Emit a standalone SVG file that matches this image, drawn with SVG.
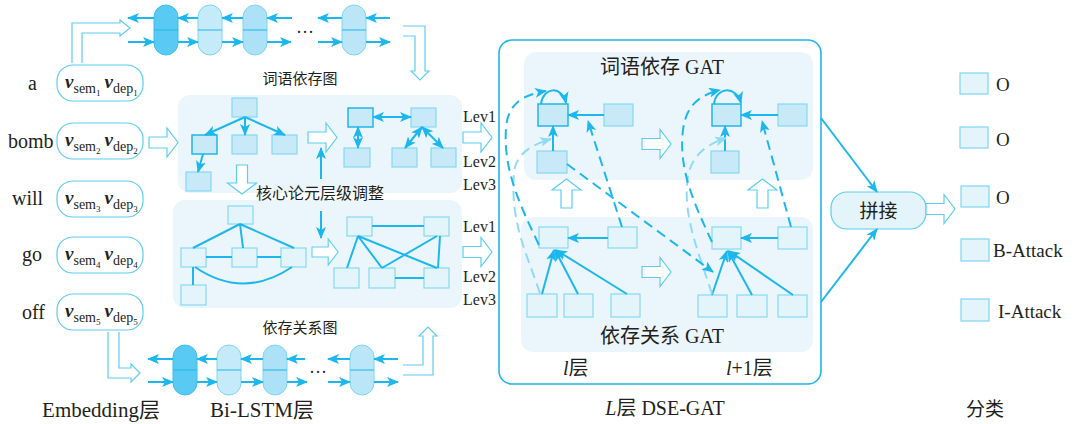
<svg xmlns="http://www.w3.org/2000/svg" width="1077" height="424" viewBox="0 0 1077 424">
<defs>
<style>
.t{font-family:"Liberation Serif","Noto Sans CJK SC",serif;fill:#231f20}
.cn{font-family:"Noto Sans CJK SC",sans-serif;fill:#231f20}
.panel{fill:#ebf6fc}
.wn{fill:#c7e9f8;stroke:#86d7f5;stroke-width:1.2}
.wd{fill:#c7e9f8;stroke:#22b5e9;stroke-width:1.5}
.rn{fill:#e4f4fb;stroke:#86d7f5;stroke-width:1.2}
.ln{stroke:#1cb7ee;stroke-width:2;fill:none}
.ar{stroke:#1cb7ee;stroke-width:2;fill:none;marker-end:url(#ah)}
.dar{stroke:#1cb7ee;stroke-width:2;fill:none;marker-end:url(#ah);marker-start:url(#ah)}
.dash{stroke:#1cb7ee;stroke-width:2;fill:none;stroke-dasharray:10 6;marker-end:url(#ah)}
.ldash{stroke:#8fdaf5;stroke-width:2;fill:none;stroke-dasharray:10 6;marker-end:url(#ahl)}
.hol{fill:#fff;stroke:#5dcdf2;stroke-width:1.2}
.box{fill:#fff;stroke:#5dcdf2;stroke-width:1.2}
.v{font-weight:bold;font-style:italic;font-size:19px}
.s{font-size:14px}
.d{font-size:9px}
.cell{stroke:#7dd5f5;stroke-width:1}
.mid{stroke:#22b5e9;stroke-width:1.2}
.cls{fill:#e4f4fb;stroke:#7fd4f4;stroke-width:1.2}
</style>
<marker id="ah" viewBox="0 0 12 10" refX="11" refY="5" markerWidth="12" markerHeight="10" markerUnits="userSpaceOnUse" orient="auto-start-reverse"><path d="M0,0 L12,5 L0,10 L3,5 Z" fill="#1cb7ee"/></marker>
<marker id="ahl" viewBox="0 0 12 10" refX="11" refY="5" markerWidth="12" markerHeight="10" markerUnits="userSpaceOnUse" orient="auto-start-reverse"><path d="M0,0 L12,5 L0,10 L3,5 Z" fill="#8fdaf5"/></marker>
<path id="har" d="M0,-5.5 H18 V-14.5 L29,0 L18,14.5 V5.5 H0 Z"/>
</defs>
<rect width="1077" height="424" fill="#fff"/>

<!-- words and embeddings -->
<g id="words" class="t" font-size="20">
<text x="28" y="90">a</text>
<text x="8" y="148">bomb</text>
<text x="12" y="205">will</text>
<text x="22" y="261">go</text>
<text x="22" y="319">off</text>
</g>
<g id="emb1"><rect class="box" x="57" y="65" width="86" height="36" rx="16"/>
<text class="t" x="65" y="88"><tspan class="v">v</tspan><tspan class="s" dy="5">sem</tspan><tspan class="d" dy="3">1</tspan><tspan class="v" dx="4" dy="-8">v</tspan><tspan class="s" dy="5">dep</tspan><tspan class="d" dy="3">1</tspan></text></g>
<g id="emb2"><rect class="box" x="57" y="123" width="86" height="36" rx="16"/>
<text class="t" x="65" y="146"><tspan class="v">v</tspan><tspan class="s" dy="5">sem</tspan><tspan class="d" dy="3">2</tspan><tspan class="v" dx="4" dy="-8">v</tspan><tspan class="s" dy="5">dep</tspan><tspan class="d" dy="3">2</tspan></text></g>
<g id="emb3"><rect class="box" x="57" y="181" width="86" height="36" rx="16"/>
<text class="t" x="65" y="204"><tspan class="v">v</tspan><tspan class="s" dy="5">sem</tspan><tspan class="d" dy="3">3</tspan><tspan class="v" dx="4" dy="-8">v</tspan><tspan class="s" dy="5">dep</tspan><tspan class="d" dy="3">3</tspan></text></g>
<g id="emb4"><rect class="box" x="57" y="237" width="86" height="36" rx="16"/>
<text class="t" x="65" y="260"><tspan class="v">v</tspan><tspan class="s" dy="5">sem</tspan><tspan class="d" dy="3">4</tspan><tspan class="v" dx="4" dy="-8">v</tspan><tspan class="s" dy="5">dep</tspan><tspan class="d" dy="3">4</tspan></text></g>
<g id="emb5"><rect class="box" x="57" y="294" width="86" height="36" rx="16"/>
<text class="t" x="65" y="317"><tspan class="v">v</tspan><tspan class="s" dy="5">sem</tspan><tspan class="d" dy="3">5</tspan><tspan class="v" dx="4" dy="-8">v</tspan><tspan class="s" dy="5">dep</tspan><tspan class="d" dy="3">5</tspan></text></g>

<!-- top Bi-LSTM -->
<g id="lstm-top">
<rect x="154" y="5" width="24" height="50" rx="12" fill="#59caf3" stroke="#3dc0ef"/>
<rect class="cell" x="198" y="5" width="24" height="50" rx="12" fill="#c5eafa"/>
<rect class="cell" x="243" y="5" width="24" height="50" rx="12" fill="#ade1f7"/>
<rect class="cell" x="342" y="5" width="24" height="50" rx="12" fill="#bae6f8"/>
<path class="mid" d="M154,30H178M198,30H222M243,30H267M342,30H366"/>
<text class="t" x="305" y="38" font-size="18" text-anchor="middle">···</text>
</g>
<!-- bottom Bi-LSTM -->
<g id="lstm-bottom">
<rect x="173" y="345" width="24" height="50" rx="12" fill="#59caf3" stroke="#3dc0ef"/>
<rect class="cell" x="217" y="345" width="24" height="50" rx="12" fill="#c5eafa"/>
<rect class="cell" x="263" y="345" width="24" height="50" rx="12" fill="#ade1f7"/>
<rect class="cell" x="350" y="345" width="24" height="50" rx="12" fill="#bae6f8"/>
<path class="mid" d="M173,370H197M217,370H241M263,370H287M350,370H374"/>
<text class="t" x="318" y="378" font-size="18" text-anchor="middle">···</text>
</g>

<!-- middle panels -->
<g id="panel-word">
<rect class="panel" x="178" y="95" width="284" height="98" rx="12"/>
<rect class="wn" x="232" y="98" width="25" height="19"/>
<rect class="wd" x="192" y="135" width="25" height="19"/>
<rect class="wn" x="232" y="135" width="25" height="19"/>
<rect class="wn" x="272" y="135" width="25" height="19"/>
<rect class="wn" x="186" y="172" width="25" height="19"/>
<rect class="wd" x="348" y="108" width="25" height="19"/>
<rect class="wn" x="411" y="108" width="25" height="19"/>
<rect class="wn" x="344" y="148" width="26" height="19"/>
<rect class="wn" x="392" y="148" width="25" height="19"/>
<rect class="wn" x="431" y="148" width="25" height="19"/>
</g>
<g id="panel-rel">
<rect class="panel" x="173" y="200" width="289" height="108" rx="12"/>
<rect class="rn" x="228" y="206" width="25" height="18"/>
<rect class="rn" x="181" y="248" width="25" height="19"/>
<rect class="rn" x="232" y="248" width="25" height="19"/>
<rect class="rn" x="281" y="248" width="25" height="19"/>
<rect class="rn" x="181" y="285" width="25" height="20"/>
<rect class="rn" x="347" y="217" width="25" height="19"/>
<rect class="rn" x="424" y="217" width="25" height="19"/>
<rect class="rn" x="334" y="268" width="25" height="20"/>
<rect class="rn" x="369" y="268" width="26" height="20"/>
<rect class="rn" x="424" y="268" width="25" height="20"/>
</g>
<g id="labels-mid">
<text class="cn" x="300" y="84" font-size="15" text-anchor="middle">词语依存图</text>
<text class="cn" x="300" y="333" font-size="15" text-anchor="middle">依存关系图</text>
<text class="cn" x="320" y="199" font-size="16" text-anchor="middle">核心论元层级调整</text>
<g class="t" font-size="16">
<text x="463" y="122">Lev1</text><text x="463" y="167">Lev2</text><text x="463" y="190">Lev3</text>
<text x="463" y="232">Lev1</text><text x="463" y="282">Lev2</text><text x="463" y="305">Lev3</text>
</g>
</g>

<!-- GAT block -->
<g id="gat">
<rect x="499" y="40" width="322" height="344" rx="13" fill="#fff" stroke="#22b5e9" stroke-width="1.6"/>
<rect class="panel" x="524" y="52" width="289" height="128" rx="12"/>
<rect class="panel" x="521" y="217" width="292" height="135" rx="12"/>
<text class="t" x="662" y="74" font-size="20" text-anchor="middle">词语依存 GAT</text>
<text class="t" x="662" y="343" font-size="20" text-anchor="middle">依存关系 GAT</text>
</g>
<g id="gat-word-l">
<rect class="wd" x="538" y="104" width="30" height="22"/>
<rect class="wn" x="604" y="104" width="29" height="22"/>
<rect class="wn" x="537" y="151" width="30" height="22"/>
</g>
<g id="gat-word-l1">
<rect class="wd" x="712" y="104" width="29" height="22"/>
<rect class="wn" x="778" y="104" width="29" height="22"/>
<rect class="wn" x="711" y="151" width="28" height="22"/>
</g>
<g id="gat-rel-l">
<rect class="rn" x="539" y="227" width="29" height="21"/>
<rect class="rn" x="608" y="227" width="29" height="21"/>
<rect class="rn" x="527" y="294" width="30" height="23"/>
<rect class="rn" x="564" y="294" width="29" height="23"/>
<rect class="rn" x="611" y="294" width="29" height="23"/>
</g>
<g id="gat-rel-l1">
<rect class="rn" x="712" y="227" width="29" height="22"/>
<rect class="rn" x="778" y="227" width="29" height="22"/>
<rect class="rn" x="698" y="295" width="29" height="22"/>
<rect class="rn" x="737" y="295" width="30" height="22"/>
<rect class="rn" x="778" y="295" width="29" height="22"/>
</g>
<g id="gat-labels" class="t" font-size="20">
<text x="563" y="375"><tspan font-style="italic">l</tspan>层</text>
<text x="726" y="375"><tspan font-style="italic">l</tspan>+1层</text>
<text x="665" y="415" text-anchor="middle"><tspan font-style="italic">L</tspan>层 DSE-GAT</text>
</g>

<!-- concat & classes -->
<g id="concat">
<rect x="831" y="192" width="95" height="37" rx="16" fill="#e4f4fb" stroke="#5dcdf2" stroke-width="1.2"/>
<text class="cn" x="878.5" y="218" font-size="19" text-anchor="middle">拼接</text>
</g>
<g id="classes" class="t" font-size="19">
<rect class="cls" x="960" y="73" width="28" height="21"/><text x="996" y="91">O</text>
<rect class="cls" x="960" y="127" width="28" height="21"/><text x="996" y="146">O</text>
<rect class="cls" x="961" y="186" width="28" height="21"/><text x="996" y="204">O</text>
<rect class="cls" x="961" y="239" width="28" height="22"/><text x="993" y="257">B-Attack</text>
<rect class="cls" x="961" y="299" width="28" height="22"/><text x="998" y="318">I-Attack</text>
<text x="985" y="416" text-anchor="middle">分类</text>
</g>
<g id="bottom-labels" class="t" font-size="21">
<text x="101" y="417" text-anchor="middle">Embedding层</text>
<text x="262" y="417" text-anchor="middle">Bi-LSTM层</text>
</g>

<!-- connectors -->
<g id="connectors">
<g class="hol">
<use href="#har" transform="translate(149,142.5)"/>
<use href="#har" transform="translate(308,137.5)"/>
<use href="#har" transform="translate(463,137.5)"/>
<use href="#har" transform="translate(312,252) scale(0.9)"/>
<use href="#har" transform="translate(463,252)"/>
<use href="#har" transform="translate(642,144)"/>
<use href="#har" transform="translate(642,272)"/>
<use href="#har" transform="translate(926,209)"/>
<use href="#har" transform="translate(242,165) rotate(90)"/>
<use href="#har" transform="translate(566.5,208) rotate(-90)"/>
<use href="#har" transform="translate(762.5,208) rotate(-90)"/>
<path d="M72,63 V23 H120 V20 L130,28 L120,36 V33 H82 V63" fill="none"/>
<path d="M403,26 H425 V71 H429 L420,80 L411,71 H415 V36 H403" fill="none"/>
<path d="M108,332 V378 H131 V382 L140,373 L131,364 V368 H119 V332" fill="none"/>
<path d="M403,375 H433 V336 H437 L428,327 L419,336 H423 V365 H403" fill="none"/>
</g>
<!-- LSTM arrows -->
<path class="ar" d="M128,42H154"/><path class="ar" d="M178,42H198"/><path class="ar" d="M222,42H243"/><path class="ar" d="M267,42H291"/><path class="ar" d="M318,42H342"/><path class="ar" d="M366,42H390"/>
<path class="ar" d="M390,18H366"/><path class="ar" d="M342,18H318"/><path class="ar" d="M292,18H267"/><path class="ar" d="M243,18H222"/><path class="ar" d="M198,18H178"/><path class="ar" d="M154,18H128"/>
<path class="ar" d="M398,359H374"/><path class="ar" d="M350,359H328"/><path class="ar" d="M305,359H287"/><path class="ar" d="M263,359H241"/><path class="ar" d="M217,359H197"/><path class="ar" d="M173,359H148"/>
<path class="ar" d="M148,382H173"/><path class="ar" d="M197,382H217"/><path class="ar" d="M241,382H263"/><path class="ar" d="M287,382H307"/><path class="ar" d="M328,382H350"/><path class="ar" d="M374,382H398"/>
<!-- word dependency graph -->
<path class="ar" d="M245,117L205,135"/><path class="ar" d="M245,117L245,135"/><path class="ar" d="M245,117L285,135"/>
<path class="ar" d="M203,154L198,172"/>
<path class="dar" d="M373,117H411"/><path class="dar" d="M358,127V148"/>
<path class="dar" d="M422,127L405,148"/><path class="dar" d="M422,127L443,148"/>
<path class="ar" d="M321,179V148"/><path class="ar" d="M321,211V238"/>
<!-- dependency relation graph -->
<path class="ln" d="M240,224L193,248M240,224L243,248M240,224L294,248M206,257H232M257,257H281M195,267Q243,300 292,267M193,267V285"/>
<path class="ln" d="M372,226H424M358,236L347,268M358,236L382,268M358,236L437,268M437,236L382,268M440,236L438,268M395,278H424"/>
<!-- GAT internal -->
<path class="ar" d="M604,115H568"/><path class="ar" d="M553,151V126"/>
<path class="ar" d="M541,104C543,87 562,85 566,103"/>
<path class="ar" d="M778,115H741"/><path class="ar" d="M725,151V126"/>
<path class="ar" d="M714,104C716,87 736,85 741,103"/>
<path class="ar" d="M608,238H568"/>
<path class="ar" d="M542,294L554,250"/><path class="ar" d="M578,294L555,250"/><path class="ar" d="M627,294L556,250"/>
<path class="ar" d="M778,238H741"/>
<path class="ar" d="M712,295L727,251"/><path class="ar" d="M752,295L728,251"/><path class="ar" d="M793,295L729,251"/>
<path class="ldash" d="M540,293C525,250 510,220 514,172C516,155 530,145 551,139"/>
<path class="ldash" d="M712,294C698,250 682,215 688,176C692,156 705,145 726,138"/>
<path class="dash" d="M539,245C520,205 503,170 506,128C508,104 522,95 546,91"/>
<path class="dash" d="M712,242C695,205 678,170 683,130C686,105 700,95 720,90"/>
<path class="dash" d="M622,227L588,121"/>
<path class="dash" d="M791,227L762,121"/>
<path class="dash" d="M567,164L713,272"/>
<path class="ar" d="M821,118L877,192"/><path class="ar" d="M821,302L877,229"/>
</g>
</svg>
